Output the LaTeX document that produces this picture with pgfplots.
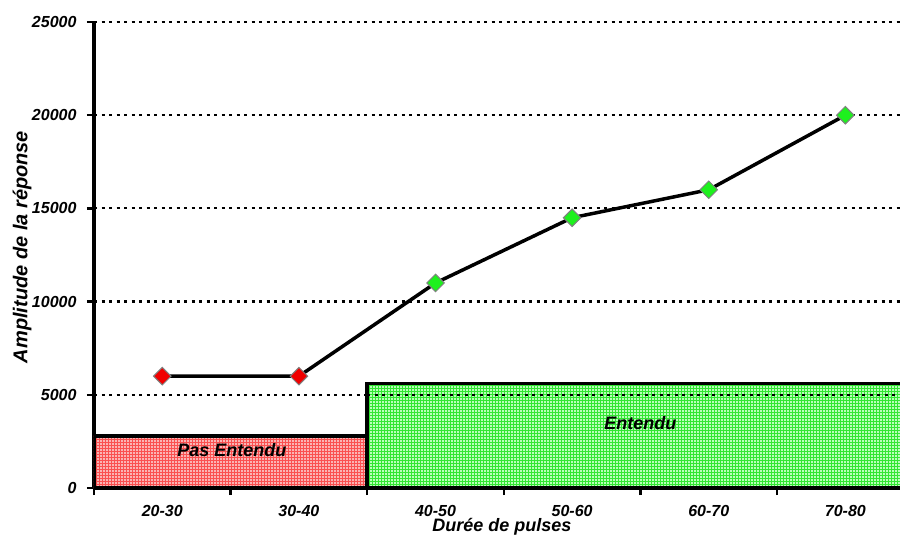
\documentclass[border=0pt]{standalone}
\usepackage{pgfplots}
\pgfplotsset{compat=1.18}
\usetikzlibrary{patterns}
\usepackage{fontspec}
\setmainfont{Liberation Sans}
\definecolor{redfill}{RGB}{250,180,180}
\definecolor{redline}{RGB}{250,80,80}
\definecolor{greenfill}{RGB}{185,255,185}
\definecolor{greenline}{RGB}{50,230,50}
\definecolor{mred}{RGB}{240,0,0}
\definecolor{mgreen}{RGB}{30,240,30}
\begin{document}
\begin{tikzpicture}
\begin{axis}[
  scale only axis,
  width=806pt, height=466pt,
  xmin=-0.5, xmax=5.4,
  ymin=0, ymax=25000,
  axis lines=left,
  axis line style={-, line width=3.5pt},
  clip=true,
  ytick={0,5000,10000,15000,20000,25000},
  scaled y ticks=false,
  xtick={0,1,2,3,4,5},
  xticklabels={20-30,30-40,40-50,50-60,60-70,70-80},
  minor xtick={-0.5,0.5,1.5,2.5,3.5,4.5},
  every major x tick/.append style={draw=none},
  tick align=outside,
  major tick length=7pt,
  minor tick length=7pt,
  every tick/.append style={line width=2.5pt, black},
  ymajorgrids=true,
  major grid style={black, line width=2.2pt, dash pattern=on 3pt off 4.5pt},
  /pgf/number format/assume math mode=true,
  /pgf/number format/set thousands separator={},
  ticklabel style={font=\fontsize{16}{16}\selectfont\bfseries\itshape},
  xticklabel style={yshift=-7pt},
  yticklabel style={xshift=-7pt},
  xlabel={Durée de pulses},
  ylabel={Amplitude de la réponse},
  xlabel style={font=\fontsize{18}{18}\selectfont\bfseries\itshape, at={(axis description cs:0.506,-0.0837)}, anchor=center, inner sep=0pt},
  ylabel style={font=\fontsize{20}{20}\selectfont\bfseries\itshape, at={(axis description cs:-0.0893,0.517)}, anchor=center, inner sep=0pt},
]
% Pas Entendu region
\addplot[draw=black, line width=3.5pt, fill=redfill,
  postaction={pattern=grid, pattern color=redline}]
  coordinates {(-0.5,0) (-0.5,2800) (1.5,2800) (1.5,0)} -- cycle;
% Entendu region
\addplot[draw=black, line width=3.5pt, fill=greenfill,
  postaction={pattern=grid, pattern color=greenline}]
  coordinates {(1.5,0) (1.5,5600) (6,5600) (6,0)} -- cycle;
% redraw grid line at 5000 over green region
\addplot[black, line width=2.2pt, dash pattern=on 3pt off 4.5pt]
  coordinates {(1.5,5000) (6,5000)};
\node[font=\fontsize{18}{18}\selectfont\bfseries\itshape] at (axis cs:0.51,2040) {Pas Entendu};
\node[font=\fontsize{18}{18}\selectfont\bfseries\itshape] at (axis cs:3.5,3490) {Entendu};
% response line
\addplot[black, line width=3.5pt, mark=none]
  coordinates {(0,6000) (1,6000) (2,11000) (3,14500) (4,16000) (5,20000)};
\addplot[only marks, mark=square*, mark size=6.2pt,
  mark options={rotate=45, fill=mred, draw=gray, line width=1pt}]
  coordinates {(0,6000) (1,6000)};
\addplot[only marks, mark=square*, mark size=6.2pt,
  mark options={rotate=45, fill=mgreen, draw=gray, line width=1pt}]
  coordinates {(2,11000) (3,14500) (4,16000) (5,20000)};
% redraw axes on top
\addplot[black, line width=3.5pt] coordinates {(-0.5,25000) (-0.5,0) (6,0)};
\end{axis}
\pgfresetboundingbox
\path[use as bounding box] ([xshift=-94pt,yshift=-47pt]current axis.south west) rectangle ([yshift=22pt]current axis.north east);
\end{tikzpicture}
\end{document}
